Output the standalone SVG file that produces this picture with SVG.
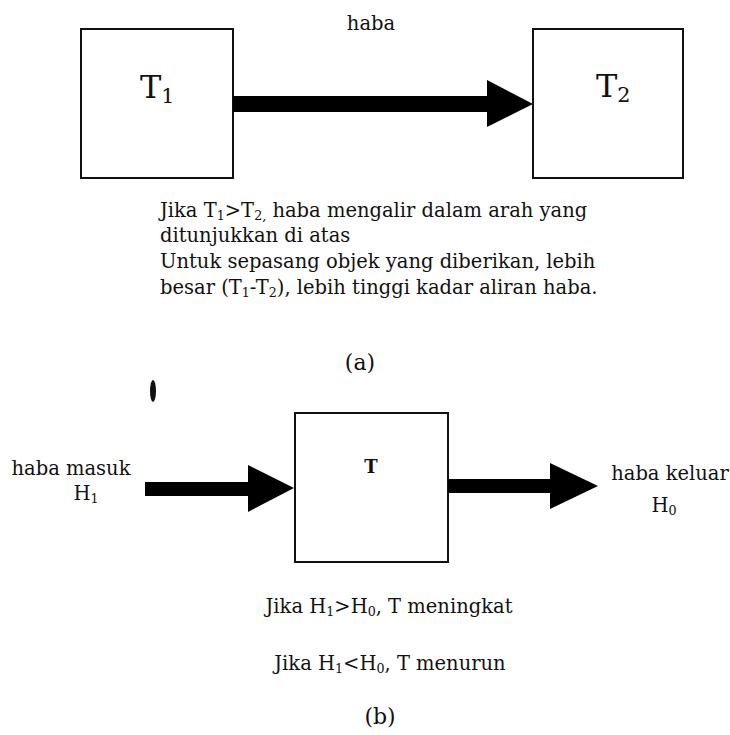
<svg xmlns="http://www.w3.org/2000/svg" width="730" height="735" viewBox="0 0 730 735">
  <style>
    .box { fill: #ffffff; stroke: #111111; stroke-width: 2; }
    .arrow { fill: #000000; stroke: none; }
    .txt { font-family: "DejaVu Serif", "Liberation Serif", serif; fill: #111111; font-size: 19.5px; }
    .big { font-size: 32px; }
    .sub { font-size: 65%; }
    .label { font-size: 22px; }
    .bold { font-weight: bold; font-size: 18px; }
  </style>

  <rect width="730" height="735" fill="#ffffff"/>

  <!-- (a) two bodies, heat flowing from T1 to T2 -->
  <g id="node-t1">
    <rect class="box" x="81" y="29" width="152" height="149"/>
    <text class="txt big" x="140" y="98">T<tspan class="sub" dy="5">1</tspan></text>
  </g>
  <g id="node-t2">
    <rect class="box" x="533" y="29" width="150" height="149"/>
    <text class="txt big" x="596" y="97">T<tspan class="sub" dy="5">2</tspan></text>
  </g>

  <!-- (b) single body with heat in and heat out -->
  <g id="node-t">
    <rect class="box" x="295" y="413" width="153" height="149"/>
    <text class="txt bold" x="371" y="473" text-anchor="middle">T</text>
  </g>

  <g id="connectors">
    <!-- heat flow T1 -> T2 -->
    <polygon class="arrow" points="233,96 487,96 487,80 533,104 487,127 487,112 233,112"/>
    <!-- heat in -->
    <polygon class="arrow" points="145,482 248,482 248,465 294,488 248,512 248,496 145,496"/>
    <!-- heat out -->
    <polygon class="arrow" points="448,479 550,479 550,463 598,486 550,509 550,493 448,493"/>
  </g>

  <g id="labels-a">
    <text class="txt" x="371" y="30" text-anchor="middle">haba</text>
    <text class="txt" x="160" y="217">Jika T<tspan class="sub" dy="3">1</tspan><tspan dy="-3">&gt;T</tspan><tspan class="sub" dy="3">2,</tspan><tspan dy="-3"> haba mengalir dalam arah yang</tspan></text>
    <text class="txt" x="160" y="242">ditunjukkan di atas</text>
    <text class="txt" x="160" y="268">Untuk sepasang objek yang diberikan, lebih</text>
    <text class="txt" x="160" y="294">besar (T<tspan class="sub" dy="3">1</tspan><tspan dy="-3">-T</tspan><tspan class="sub" dy="3">2</tspan><tspan dy="-3">), lebih tinggi kadar aliran haba.</tspan></text>
    <text class="txt label" x="360" y="370" text-anchor="middle">(a)</text>
  </g>

  <!-- ink spot -->
  <ellipse cx="153" cy="391" rx="3" ry="11" fill="#111111"/>

  <g id="labels-b">
    <text class="txt" x="71" y="475" text-anchor="middle">haba masuk</text>
    <text class="txt" x="86" y="500" text-anchor="middle">H<tspan class="sub" dy="3">1</tspan></text>
    <text class="txt" x="670" y="480" text-anchor="middle">haba keluar</text>
    <text class="txt" x="664" y="512" text-anchor="middle">H<tspan class="sub" dy="3">0</tspan></text>
    <text class="txt" x="389" y="613" text-anchor="middle">Jika H<tspan class="sub" dy="3">1</tspan><tspan dy="-3">&gt;H</tspan><tspan class="sub" dy="3">0</tspan><tspan dy="-3">, T meningkat</tspan></text>
    <text class="txt" x="390" y="670" text-anchor="middle">Jika H<tspan class="sub" dy="3">1</tspan><tspan dy="-3">&lt;H</tspan><tspan class="sub" dy="3">0</tspan><tspan dy="-3">, T menurun</tspan></text>
    <text class="txt label" x="380" y="724" text-anchor="middle">(b)</text>
  </g>
</svg>
